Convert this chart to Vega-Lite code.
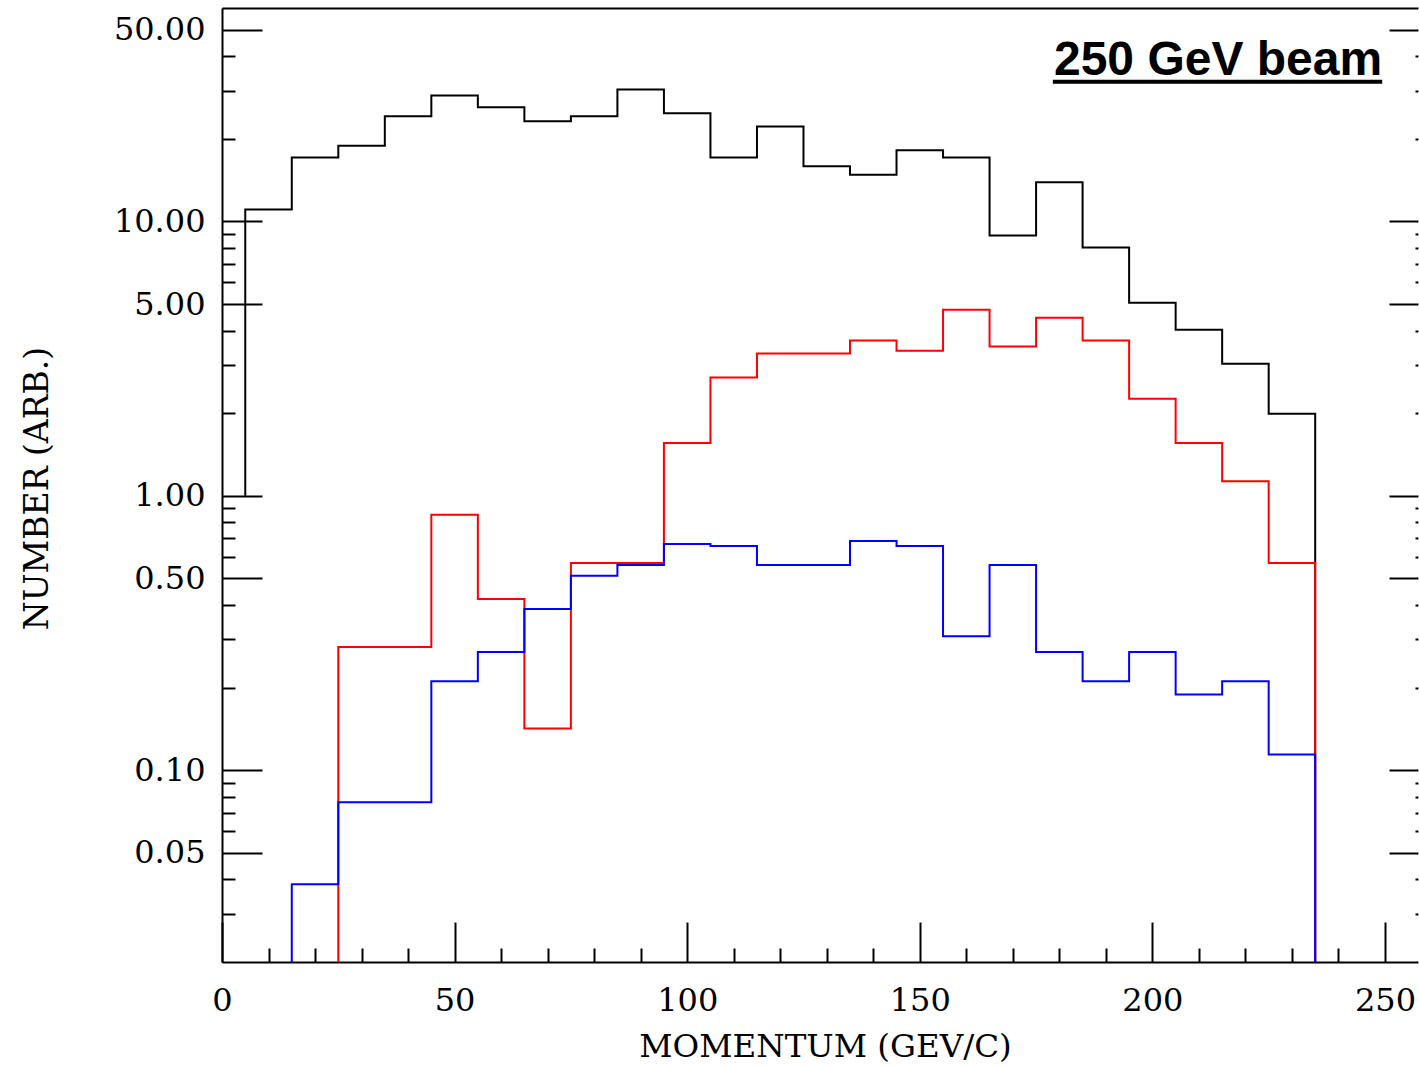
{
  "$schema": "https://vega.github.io/schema/vega-lite/v6.json",
  "width": 1196,
  "height": 954,
  "autosize": {"type": "none"},
  "padding": {"left": 222, "top": 8, "right": 1, "bottom": 104},
  "background": "white",
  "config": {
    "view": {"stroke": null},
    "axis": {
      "grid": false,
      "domainColor": "black",
      "domainWidth": 2,
      "tickColor": "black",
      "tickWidth": 2,
      "labelFont": "DejaVu Serif",
      "labelFontSize": 32,
      "labelColor": "black",
      "labelOverlap": false,
      "labelFlush": false,
      "titleFont": "DejaVu Serif",
      "titleFontSize": 32.5,
      "titleFontWeight": "normal",
      "titleColor": "black"
    }
  },
  "datasets": {
    "hist": [
      {"s": "all", "i": 0, "p": 5, "n": 1},
      {"s": "all", "i": 1, "p": 5, "n": 11.06},
      {"s": "all", "i": 2, "p": 15, "n": 17.1},
      {"s": "all", "i": 3, "p": 25, "n": 18.9},
      {"s": "all", "i": 4, "p": 35, "n": 24.2},
      {"s": "all", "i": 5, "p": 45, "n": 28.8},
      {"s": "all", "i": 6, "p": 55, "n": 26.1},
      {"s": "all", "i": 7, "p": 65, "n": 23.2},
      {"s": "all", "i": 8, "p": 75, "n": 24.2},
      {"s": "all", "i": 9, "p": 85, "n": 30.3},
      {"s": "all", "i": 10, "p": 95, "n": 24.8},
      {"s": "all", "i": 11, "p": 105, "n": 17.1},
      {"s": "all", "i": 12, "p": 115, "n": 22.2},
      {"s": "all", "i": 13, "p": 125, "n": 15.9},
      {"s": "all", "i": 14, "p": 135, "n": 14.8},
      {"s": "all", "i": 15, "p": 145, "n": 18.2},
      {"s": "all", "i": 16, "p": 155, "n": 17.1},
      {"s": "all", "i": 17, "p": 165, "n": 8.89},
      {"s": "all", "i": 18, "p": 175, "n": 13.9},
      {"s": "all", "i": 19, "p": 185, "n": 8.04},
      {"s": "all", "i": 20, "p": 195, "n": 5.06},
      {"s": "all", "i": 21, "p": 205, "n": 4.03},
      {"s": "all", "i": 22, "p": 215, "n": 3.03},
      {"s": "all", "i": 23, "p": 225, "n": 1.99},
      {"s": "all", "i": 24, "p": 235, "n": 0.001},
      {"s": "red", "i": 0, "p": 25, "n": 0.001},
      {"s": "red", "i": 1, "p": 25, "n": 0.281},
      {"s": "red", "i": 2, "p": 35, "n": 0.281},
      {"s": "red", "i": 3, "p": 45, "n": 0.853},
      {"s": "red", "i": 4, "p": 55, "n": 0.421},
      {"s": "red", "i": 5, "p": 65, "n": 0.142},
      {"s": "red", "i": 6, "p": 75, "n": 0.569},
      {"s": "red", "i": 7, "p": 85, "n": 0.569},
      {"s": "red", "i": 8, "p": 95, "n": 1.56},
      {"s": "red", "i": 9, "p": 105, "n": 2.7},
      {"s": "red", "i": 10, "p": 115, "n": 3.3},
      {"s": "red", "i": 11, "p": 125, "n": 3.3},
      {"s": "red", "i": 12, "p": 135, "n": 3.68},
      {"s": "red", "i": 13, "p": 145, "n": 3.38},
      {"s": "red", "i": 14, "p": 155, "n": 4.77},
      {"s": "red", "i": 15, "p": 165, "n": 3.5},
      {"s": "red", "i": 16, "p": 175, "n": 4.46},
      {"s": "red", "i": 17, "p": 185, "n": 3.68},
      {"s": "red", "i": 18, "p": 195, "n": 2.26},
      {"s": "red", "i": 19, "p": 205, "n": 1.56},
      {"s": "red", "i": 20, "p": 215, "n": 1.13},
      {"s": "red", "i": 21, "p": 225, "n": 0.569},
      {"s": "red", "i": 22, "p": 235, "n": 0.001},
      {"s": "blue", "i": 0, "p": 15, "n": 0.001},
      {"s": "blue", "i": 1, "p": 15, "n": 0.0384},
      {"s": "blue", "i": 2, "p": 25, "n": 0.0764},
      {"s": "blue", "i": 3, "p": 35, "n": 0.0764},
      {"s": "blue", "i": 4, "p": 45, "n": 0.211},
      {"s": "blue", "i": 5, "p": 55, "n": 0.27},
      {"s": "blue", "i": 6, "p": 65, "n": 0.387},
      {"s": "blue", "i": 7, "p": 75, "n": 0.511},
      {"s": "blue", "i": 8, "p": 85, "n": 0.56},
      {"s": "blue", "i": 9, "p": 95, "n": 0.668},
      {"s": "blue", "i": 10, "p": 105, "n": 0.657},
      {"s": "blue", "i": 11, "p": 115, "n": 0.56},
      {"s": "blue", "i": 12, "p": 125, "n": 0.56},
      {"s": "blue", "i": 13, "p": 135, "n": 0.685},
      {"s": "blue", "i": 14, "p": 145, "n": 0.657},
      {"s": "blue", "i": 15, "p": 155, "n": 0.308},
      {"s": "blue", "i": 16, "p": 165, "n": 0.56},
      {"s": "blue", "i": 17, "p": 175, "n": 0.27},
      {"s": "blue", "i": 18, "p": 185, "n": 0.211},
      {"s": "blue", "i": 19, "p": 195, "n": 0.27},
      {"s": "blue", "i": 20, "p": 205, "n": 0.189},
      {"s": "blue", "i": 21, "p": 215, "n": 0.211},
      {"s": "blue", "i": 22, "p": 225, "n": 0.114},
      {"s": "blue", "i": 23, "p": 235, "n": 0.001}
    ],
    "label": [
      {"text": "250 GeV beam", "x": 249.4, "x2": 178.6, "y": 34.3, "yu": 32.3}
    ]
  },
  "resolve": {"axis": {"x": "independent", "y": "independent"}},
  "layer": [
    {
      "data": {"name": "hist"},
      "mark": {"type": "line", "interpolate": "step-after", "strokeWidth": 2, "clip": true},
      "encoding": {
        "x": {
          "field": "p", "type": "quantitative",
          "scale": {"domain": [0, 257.1], "nice": false, "zero": false},
          "axis": {
            "orient": "bottom",
            "values": [0,10,20,30,40,50,60,70,80,90,100,110,120,130,140,150,160,170,180,190,200,210,220,230,240,250],
            "tickSize": {"condition": {"test": "datum.value % 50 === 0", "value": -40}, "value": -14},
            "labelExpr": "datum.value % 50 === 0 ? datum.label : ''",
            "labelPadding": 88,
            "labelBaseline": "alphabetic",
            "labelAlign": "center",
            "title": "MOMENTUM (GEV/C)",
            "titleX": 603,
            "titleY": 94,
            "titleBaseline": "alphabetic",
            "titleAlign": "center"
          }
        },
        "y": {
          "field": "n", "type": "quantitative",
          "scale": {"type": "log", "domain": [0.02, 60], "nice": false, "clamp": true},
          "axis": {
            "orient": "left",
            "values": [0.03,0.04,0.05,0.06,0.07,0.08,0.09,0.1,0.2,0.3,0.4,0.5,0.6,0.7,0.8,0.9,1,2,3,4,5,6,7,8,9,10,20,30,40,50],
            "tickSize": {"condition": {"test": "indexof([0.05,0.1,0.5,1,5,10,50], datum.value) >= 0", "value": -40}, "value": -13},
            "labelExpr": "indexof([0.05,0.1,0.5,1,5,10,50], datum.value) >= 0 ? format(datum.value, '.2f') : ''",
            "labelPadding": 57,
            "labelAlign": "right",
            "labelBaseline": "middle",
            "title": "NUMBER (ARB.)",
            "titleFontSize": 33,
            "titleX": -185,
            "titleY": 480,
            "titleAngle": -90,
            "titleBaseline": "middle",
            "titleAlign": "center"
          }
        },
        "color": {
          "field": "s", "type": "nominal",
          "scale": {"domain": ["all", "red", "blue"], "range": ["#000000", "#ff0000", "#0000ff"]},
          "legend": null
        },
        "order": {"field": "i", "type": "quantitative"}
      }
    },
    {
      "data": {"name": "label"},
      "mark": {"type": "text", "font": "Liberation Sans", "fontWeight": "bold", "fontSize": 48, "align": "right", "baseline": "alphabetic", "color": "black"},
      "encoding": {
        "text": {"field": "text"},
        "x": {
          "field": "x", "type": "quantitative",
          "axis": {"orient": "top", "ticks": false, "labels": false, "title": null, "domain": true}
        },
        "y": {
          "field": "y", "type": "quantitative",
          "axis": {
            "orient": "right",
            "domain": false,
            "labels": false,
            "title": null,
            "values": [0.03,0.04,0.05,0.06,0.07,0.08,0.09,0.1,0.2,0.3,0.4,0.5,0.6,0.7,0.8,0.9,1,2,3,4,5,6,7,8,9,10,20,30,40,50],
            "tickSize": {"condition": {"test": "indexof([0.05,0.1,0.5,1,5,10,50], datum.value) >= 0", "value": -29}, "value": -3}
          }
        }
      }
    },
    {
      "data": {"name": "label"},
      "mark": {"type": "rule", "strokeWidth": 4, "color": "black"},
      "encoding": {
        "x": {"field": "x2", "type": "quantitative", "axis": null},
        "x2": {"field": "x"},
        "y": {"field": "yu", "type": "quantitative", "axis": null}
      }
    }
  ]
}
